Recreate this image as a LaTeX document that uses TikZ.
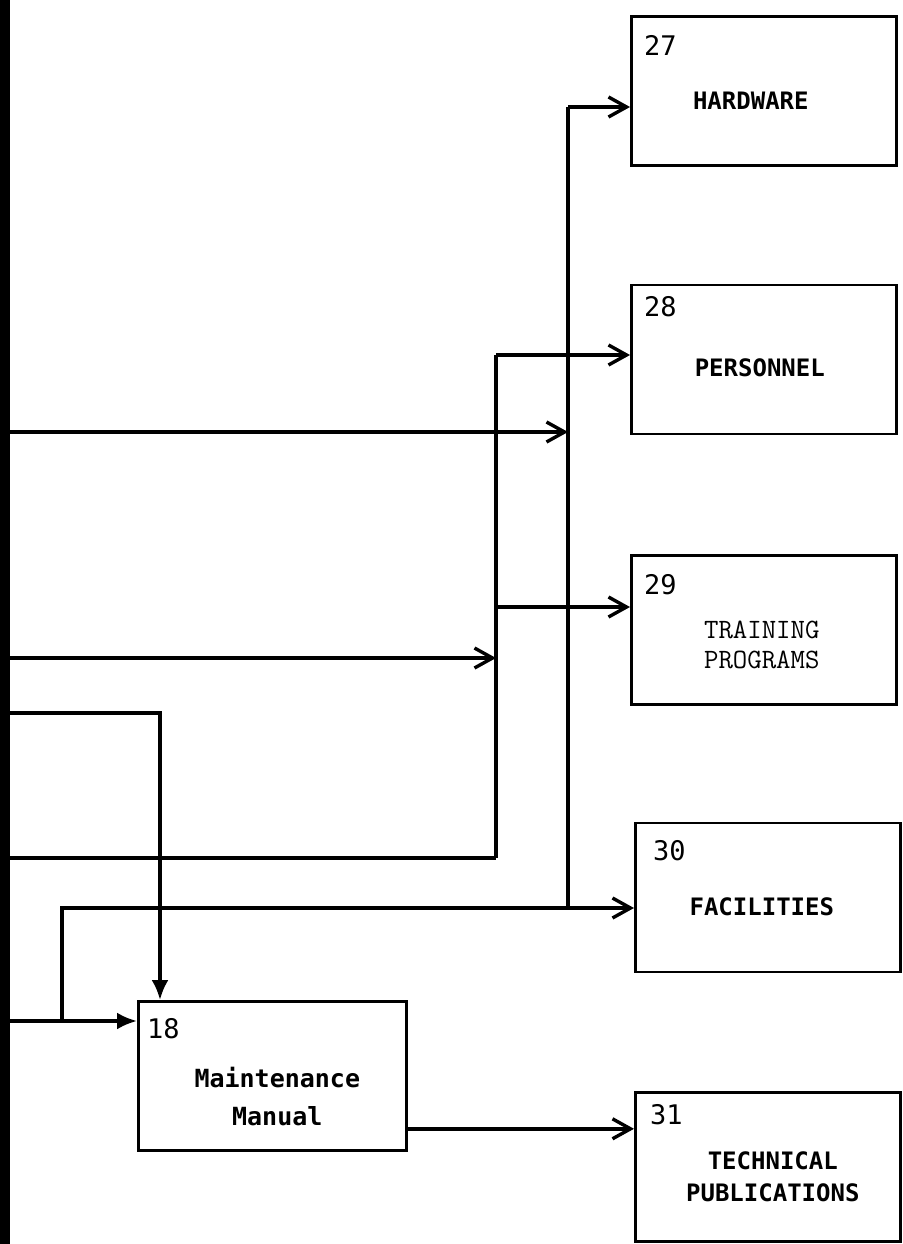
\documentclass[tikz,border=0pt]{standalone}
\usepackage{fontspec}
\usepackage{tikz}
\usetikzlibrary{arrows.meta,positioning}
\newfontfamily\gothic{DejaVu Sans Mono}

\begin{document}
\begin{tikzpicture}[x=1pt, y=-1pt,
  box/.style={draw, line width=2.6pt, minimum width=265pt, minimum height=149pt, inner sep=0pt},
  num/.style={font=\gothic\fontsize{27}{27}\selectfont, inner sep=0pt},
  lbl/.style={font=\gothic\bfseries\fontsize{24}{34}\selectfont, align=center, inner sep=0pt},
  lbltt/.style={font=\ttfamily\fontsize{28}{30}\selectfont, align=center, inner sep=0pt},
  line/.style={line width=3.4pt},
  arrow/.style={line, -{Straight Barb[length=18pt,width=20pt]}},
  fatarrow/.style={line, -{Latex[length=20pt,width=17pt]}}
]
\useasboundingbox (0,0) rectangle (902,1244);
\fill (0,0) rectangle (10,1244);

% output boxes
\node[box, anchor=north west] (hw) at (630,15) {};
\node[box, below=117pt of hw] (pers) {};
\node[box, below=119pt of pers] (train) {};
\node[box, below=116pt of train, xshift=4pt] (fac) {};
\node[box, below=118pt of fac] (pub) {};
\node[box, anchor=north west, minimum width=268pt] (mm) at (137,1000) {};

\node[num, below right=20pt and 14pt of hw.north west] (n27) {27};
\node[num, below right=13pt and 14pt of pers.north west] (n28) {28};
\node[num, below right=20pt and 14pt of train.north west] (n29) {29};
\node[num, below right=18pt and 19pt of fac.north west] (n30) {30};
\node[num, below right=13pt and 16pt of pub.north west] (n31) {31};
\node[num, below right=18pt and 10pt of mm.north west] (n18) {18};

\node[lbl] (thw) at ([xshift=-13pt, yshift=-10pt]hw.center) {HARDWARE};
\node[lbl] (tpers) at ([xshift=-4pt, yshift=-8pt]pers.center) {PERSONNEL};
\node[lbltt] (ttrain) at ([xshift=-2pt, yshift=-15pt]train.center) {TRAINING\\PROGRAMS};
\node[lbl] (tfac) at ([xshift=-6pt, yshift=-9pt]fac.center) {FACILITIES};
\node[lbl, font=\gothic\bfseries\fontsize{24}{32}\selectfont] (tpub) at ([xshift=5pt, yshift=-10pt]pub.center) {TECHNICAL\\PUBLICATIONS};
\node[lbl, font=\gothic\bfseries\fontsize{25}{38}\selectfont] (tmm) at ([xshift=5pt, yshift=-21pt]mm.center) {Maintenance\\Manual};

% inputs from the left
\coordinate (inA) at (10,432);
\coordinate (inB) at (10,658);
\coordinate (inC) at (10,713);
\coordinate (inD) at (10,858);
\coordinate (inE) at (10,1021);

\coordinate (rtop) at (568,107);
\coordinate (ltop) at (496,355);
\coordinate (ltrain) at (496,607);
\coordinate (lbot) at (496,858);
\coordinate (ftop) at (62,908);
\coordinate (fbot) at (62,1021);
\coordinate (mtop) at (160,713);
\coordinate (mout) at ([yshift=-53pt]mm.east);

\draw[line] (rtop) -- (ftop -| rtop);
\draw[arrow] (rtop) -- (rtop -| hw.west);
\draw[arrow] (inA) -- (inA -| rtop);

\draw[line] (ltop) -- (lbot);
\draw[arrow] (ltop) -- (ltop -| pers.west);
\draw[arrow] (ltrain) -- (ltrain -| train.west);
\draw[arrow] (inB) -- (inB -| ltop);
\draw[line] (inD) -- (lbot);

\draw[fatarrow] (inC) -- (mtop) -- (mtop |- mm.north);
\draw[fatarrow] (inE) -- (inE -| mm.west);
\draw[arrow] (fbot) -- (ftop) -- (ftop -| fac.west);
\draw[arrow] (mout) -- (mout -| pub.west);
\end{tikzpicture}
\end{document}
